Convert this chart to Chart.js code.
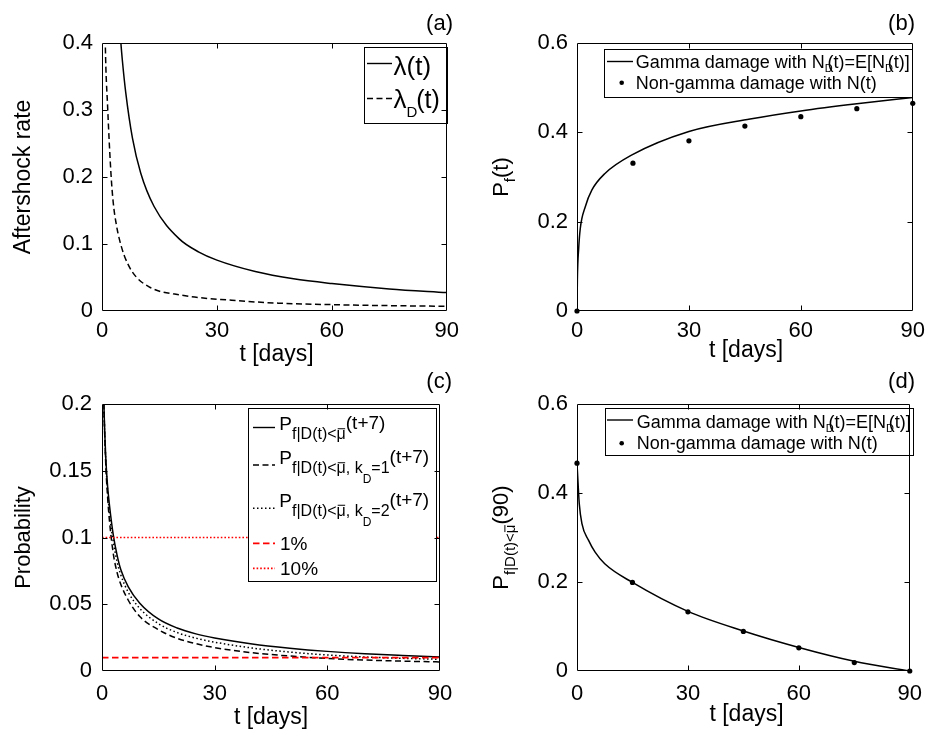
<!DOCTYPE html>
<html><head><meta charset="utf-8">
<script src="https://cdn.jsdelivr.net/npm/chart.js@4.4.1/dist/chart.umd.min.js"></script>
<style>
html,body{margin:0;padding:0;background:#fff;}
#wrap{position:relative;width:932px;height:731px;overflow:hidden;background:#fff;}
canvas{position:absolute;}
</style></head><body>
<div id="wrap">
<canvas id="ca" style="left:0px;top:0px;width:466px;height:366px" width="466" height="366"></canvas>
<canvas id="cb" style="left:466px;top:0px;width:466px;height:366px" width="466" height="366"></canvas>
<canvas id="cc" style="left:0px;top:366px;width:466px;height:365px" width="466" height="365"></canvas>
<canvas id="cd" style="left:466px;top:366px;width:466px;height:365px" width="466" height="365"></canvas>
</div>
<script>
// ---------------- DATA ----------------
const X_TICKS = [0, 30, 60, 90];
const Y_TICKS_A = [0, 0.1, 0.2, 0.3, 0.4];
const Y_TICKS_B = [0, 0.2, 0.4, 0.6];
const Y_TICKS_C = [0, 0.05, 0.1, 0.15, 0.2];
const Y_TICKS_D = [0, 0.2, 0.4, 0.6];

// (a) aftershock rates
const T_LAMBDA = [4.6, 4.93, 5.35, 6.2, 7.95, 10.1, 13.6, 20.1, 25.3, 30, 40, 50, 60, 75, 90];
const LAMBDA   = [0.43, 0.40, 0.372, 0.326, 0.258, 0.206, 0.156, 0.108, 0.088, 0.076, 0.059, 0.048, 0.041, 0.033, 0.0275];
const T_LAMBDA_D = [0.75, 0.86, 1.46, 2.33, 2.93, 3.8, 4.5, 5.8, 7.95, 12.3, 20.9, 33.9, 46, 60, 75, 90];
const LAMBDA_D   = [0.45, 0.40, 0.306, 0.206, 0.162, 0.127, 0.108, 0.083, 0.058, 0.036, 0.0235, 0.016, 0.0117, 0.0095, 0.008, 0.007];

// (b) failure probability
const T_PF = [0, 0.1, 0.45, 0.88, 2.2, 4, 7.5, 14.6, 30, 46.4, 60, 75, 90];
const PF_GAMMA = [0, 0.07, 0.14, 0.185, 0.233, 0.271, 0.308, 0.349, 0.402, 0.430, 0.448, 0.464, 0.478];
const T_DOTS = [0, 15, 30, 45, 60, 75, 90];
const PF_NONGAMMA = [0, 0.331, 0.381, 0.414, 0.435, 0.453, 0.465];

// (c) conditional probabilities
const T_C = [0.3, 0.5, 1, 1.5, 2, 3, 4, 5, 7, 10, 15, 20, 25, 30, 40, 50, 60, 70, 80, 90];
const P_C_GAMMA = [0.23, 0.2, 0.16, 0.138, 0.124, 0.102, 0.087, 0.076, 0.063, 0.051, 0.039, 0.0322, 0.0278, 0.0247, 0.0202, 0.0171, 0.0147, 0.0129, 0.0116, 0.0105];
const P_C_K1 = [0.23, 0.2, 0.155, 0.13, 0.112, 0.088, 0.074, 0.065, 0.053, 0.041, 0.031, 0.0245, 0.0205, 0.0175, 0.0137, 0.0112, 0.0094, 0.0082, 0.0074, 0.0068];
const P_C_K2 = [0.23, 0.2, 0.158, 0.135, 0.118, 0.097, 0.082, 0.072, 0.059, 0.047, 0.0355, 0.0288, 0.0246, 0.0216, 0.0172, 0.0142, 0.012, 0.0105, 0.0095, 0.0088];
const T_LIMITS = [0, 90];
const LEVEL_1 = [0.01, 0.01];
const LEVEL_10 = [0.1, 0.1];

// (d) probability at 90 days
const T_PD = [0, 0.3, 0.61, 1.33, 3.1, 4.9, 7.5, 15, 30, 45, 60, 75, 90];
const PD_GAMMA = [0.467, 0.42, 0.376, 0.331, 0.294, 0.267, 0.241, 0.199, 0.134, 0.090, 0.053, 0.022, 0];
const PD_NONGAMMA = [0.467, 0.199, 0.133, 0.089, 0.052, 0.019, 0];

// ---------------- HELPERS ----------------
const FONT = "'Liberation Sans', Arial, Helvetica, sans-serif";
const zip = (t, v) => t.map((x, i) => ({x: x, y: v[i]}));

function segW(ctx, segs) {
  let w = 0;
  for (const s of segs) { ctx.font = s.size + 'px ' + FONT; w += ctx.measureText(s.text).width * (s.adv ?? 1); }
  return w;
}
function drawSegs(ctx, x, y, segs) {
  for (const s of segs) {
    ctx.font = s.size + 'px ' + FONT;
    const yy = y + (s.dy || 0);
    ctx.fillText(s.text, x, yy);
    const full = ctx.measureText(s.text).width;
    if (s.bar) { // macron over the last character (mu-bar)
      const last = ctx.measureText(s.text.slice(-1)).width;
      const x0 = x + full - last;
      ctx.save();
      ctx.strokeStyle = ctx.fillStyle; ctx.lineWidth = Math.max(1, s.size * 0.06); ctx.setLineDash([]);
      ctx.beginPath();
      ctx.moveTo(x0 + s.size * 0.07, yy - s.size * 0.64);
      ctx.lineTo(x0 + last - s.size * 0.04, yy - s.size * 0.64);
      ctx.stroke();
      ctx.restore();
    }
    x += full * (s.adv ?? 1);
  }
}

const mfig = {
  id: 'mfig',
  afterDatasetsDraw(chart, args, o) {
    const ctx = chart.ctx, a = chart.chartArea, ox = o.ox, oy = o.oy;
    ctx.save();
    if (o.legend) {
      const L = o.legend, b = L.box;
      ctx.setLineDash([]);
      ctx.fillStyle = '#fff';
      ctx.fillRect(b[0] - ox, b[1] - oy, b[2] - b[0], b[3] - b[1]);
      ctx.strokeStyle = '#000'; ctx.lineWidth = 1;
      ctx.strokeRect(Math.round(b[0] - ox) + 0.5, Math.round(b[1] - oy) + 0.5, Math.round(b[2] - b[0]), Math.round(b[3] - b[1]));
      for (const r of L.rows) {
        if (r.line) {
          const l = r.line;
          ctx.beginPath();
          ctx.strokeStyle = l.color; ctx.lineWidth = l.width || 1.4;
          ctx.setLineDash(l.dash || []);
          ctx.moveTo(l.x1 - ox, l.y - oy); ctx.lineTo(l.x2 - ox, l.y - oy);
          ctx.stroke();
          ctx.setLineDash([]);
        }
        if (r.dot) {
          ctx.beginPath(); ctx.fillStyle = '#000';
          ctx.arc(r.dot.x - ox, r.dot.y - oy, r.dot.r, 0, Math.PI * 2); ctx.fill();
        }
        ctx.fillStyle = '#000'; ctx.textAlign = 'left'; ctx.textBaseline = 'alphabetic';
        drawSegs(ctx, r.x - ox, r.y - oy, r.segs);
      }
    }
    ctx.setLineDash([]);
    ctx.strokeStyle = '#000'; ctx.lineWidth = 1;
    const L0 = Math.round(a.left) + 0.5, R0 = Math.round(a.right) - 0.5, T0 = Math.round(a.top) + 0.5, B0 = Math.round(a.bottom) - 0.5;
    ctx.beginPath();
    ctx.moveTo(L0, T0); ctx.lineTo(R0, T0); ctx.lineTo(R0, B0); ctx.lineTo(L0, B0); ctx.closePath();
    ctx.stroke();
    const xs = chart.scales.x, ys = chart.scales.y, TL = 5;
    ctx.beginPath();
    for (const t of xs.ticks) {
      const p = Math.round(xs.getPixelForValue(t.value)) + 0.5;
      if (p <= L0 + 1 || p >= R0 - 1) continue;
      ctx.moveTo(p, B0); ctx.lineTo(p, B0 - TL);
      ctx.moveTo(p, T0); ctx.lineTo(p, T0 + TL);
    }
    for (const t of ys.ticks) {
      const p = Math.round(ys.getPixelForValue(t.value)) + 0.5;
      if (p <= T0 + 1 || p >= B0 - 1) continue;
      ctx.moveTo(L0, p); ctx.lineTo(L0 + TL, p);
      ctx.moveTo(R0, p); ctx.lineTo(R0 - TL, p);
    }
    ctx.stroke();
    ctx.fillStyle = '#000'; ctx.textBaseline = 'alphabetic'; ctx.textAlign = 'left';
    for (const t of o.texts) {
      const w = segW(ctx, t.segs);
      if (t.rotate) {
        ctx.save();
        ctx.translate(t.x - ox, t.y - oy);
        ctx.rotate(-Math.PI / 2);
        drawSegs(ctx, -w / 2, 0, t.segs);
        ctx.restore();
      } else {
        let x = t.x - ox;
        if (t.align === 'center') x -= w / 2;
        else if (t.align === 'right') x -= w;
        drawSegs(ctx, x, t.y - oy, t.segs);
      }
    }
    ctx.restore();
  }
};
Chart.register(mfig);

function xAxis(h, pad) {
  return {
    type: 'linear', min: X_TICKS[0], max: X_TICKS[X_TICKS.length - 1],
    afterBuildTicks: s => { s.ticks = X_TICKS.map(v => ({value: v})); },
    grid: {display: false, drawTicks: false}, border: {display: false},
    ticks: {font: {family: FONT, size: 22}, color: '#000', padding: pad, maxRotation: 0, autoSkip: false, callback: v => String(v)},
    afterFit: s => { s.height = h; }
  };
}
function yAxis(w, pad, ticks) {
  return {
    type: 'linear', min: ticks[0], max: ticks[ticks.length - 1],
    afterBuildTicks: s => { s.ticks = ticks.map(v => ({value: v})); },
    grid: {display: false, drawTicks: false}, border: {display: false},
    ticks: {font: {family: FONT, size: 22}, color: '#000', padding: pad, autoSkip: false, callback: v => String(v)},
    afterFit: s => { s.width = w; }
  };
}
function lineDs(data, opts) {
  return Object.assign({data: data, showLine: true, borderColor: '#000', borderWidth: 1.5, pointRadius: 0,
    pointHoverRadius: 0, fill: false, cubicInterpolationMode: 'monotone'}, opts || {});
}
function dotDs(data) {
  return {data: data, showLine: false, pointRadius: 2.6, pointBackgroundColor: '#000', pointBorderWidth: 0, pointHoverRadius: 2.6, clip: false};
}
function makeChart(id, datasets, layoutPad, xa, ya, fig) {
  return new Chart(document.getElementById(id), {
    type: 'scatter',
    data: {datasets: datasets},
    options: {
      responsive: false, animation: false, devicePixelRatio: 1,
      layout: {padding: layoutPad, autoPadding: false},
      scales: {x: xa, y: ya},
      plugins: {legend: {display: false}, tooltip: {enabled: false}, mfig: fig}
    }
  });
}

const DASH = [6, 3.5], DOT = [1.5, 2.5], RDASH = [6.5, 3.5], RDOT = [1.6, 2];
const days = (x, y) => ({x: x, y: y, align: 'center', segs: [{text: 't [days]', size: 23}]});

// (a)
makeChart('ca', [
  lineDs(zip(T_LAMBDA, LAMBDA)),
  lineDs(zip(T_LAMBDA_D, LAMBDA_D), {borderDash: DASH})
], {top: 43, right: 15, left: 0, bottom: 0}, xAxis(55, 7), yAxis(102, 9, Y_TICKS_A), {
  ox: 0, oy: 0,
  texts: [
    {x: 453, y: 30, align: 'right', segs: [{text: '(a)', size: 22}]},
    {x: 30, y: 177, rotate: true, segs: [{text: 'Aftershock rate', size: 23}]},
    days(276.5, 361)
  ],
  legend: {box: [364, 47, 447, 123], rows: [
    {line: {x1: 367, x2: 392, y: 63.5, color: '#000'}, x: 393.5, y: 74.5, segs: [{text: '\u03BB(t)', size: 26}]},
    {line: {x1: 367, x2: 392, y: 98.5, color: '#000', dash: DASH}, x: 393.5, y: 107.5,
      segs: [{text: '\u03BB', size: 26}, {text: 'D', size: 15, dy: 9, adv: 0.9}, {text: '(t)', size: 25}]}
  ]}
});

// (b)
const gammaSegs = [{text: 'Gamma damage with N', size: 18}, {text: 'D', size: 11, dy: 4, adv: 0.35},
  {text: '(t)=E[N', size: 18}, {text: 'D', size: 11, dy: 4, adv: 0.35}, {text: '(t)]', size: 18}];
const nonGammaSegs = [{text: 'Non-gamma damage with N(t)', size: 18}];
makeChart('cb', [
  dotDs(zip(T_DOTS, PF_NONGAMMA)),
  lineDs(zip(T_PF, PF_GAMMA))
], {top: 43, right: 17, left: 0, bottom: 0}, xAxis(55, 7), yAxis(111, 9, Y_TICKS_B), {
  ox: 466, oy: 0,
  texts: [
    {x: 915, y: 30, align: 'right', segs: [{text: '(b)', size: 22}]},
    {x: 508, y: 177, rotate: true, segs: [{text: 'P', size: 22}, {text: 'f', size: 15, dy: 7}, {text: '(t)', size: 22}]},
    days(746, 357)
  ],
  legend: {box: [604, 49, 912, 97], rows: [
    {line: {x1: 607, x2: 633, y: 61.5, color: '#000'}, x: 635.7, y: 68.3, segs: gammaSegs},
    {dot: {x: 621.7, y: 82.7, r: 2.3}, x: 635.7, y: 88.5, segs: nonGammaSegs}
  ]}
});

// (c)
const pSub = (k) => k ? [{text: 'P', size: 19}, {text: 'f|D(t)<\u03BC', size: 16, dy: 9, bar: true}, {text: ', k', size: 16, dy: 9},
  {text: 'D', size: 12, dy: 19}, {text: '=' + k, size: 16, dy: 9}, {text: '(t+7)', size: 19, dy: -1}]
  : [{text: 'P', size: 19}, {text: 'f|D(t)<\u03BC', size: 16, dy: 9, bar: true}, {text: '(t+7)', size: 19, dy: -1}];
makeChart('cc', [
  lineDs(zip(T_LIMITS, LEVEL_1), {borderColor: '#ff0000', borderDash: RDASH, borderWidth: 1.7, cubicInterpolationMode: 'default'}),
  lineDs(zip(T_LIMITS, LEVEL_10), {borderColor: '#ff0000', borderDash: RDOT, borderWidth: 1.7, cubicInterpolationMode: 'default'}),
  lineDs(zip(T_C, P_C_GAMMA)),
  lineDs(zip(T_C, P_C_K1), {borderDash: DASH}),
  lineDs(zip(T_C, P_C_K2), {borderDash: DOT})
], {top: 38, right: 26, left: 0, bottom: 0}, xAxis(60, 10), yAxis(102, 10, Y_TICKS_C), {
  ox: 0, oy: 366,
  texts: [
    {x: 452, y: 388, align: 'right', segs: [{text: '(c)', size: 22}]},
    {x: 29.5, y: 537.5, rotate: true, segs: [{text: 'Probability', size: 22}]},
    days(271, 724)
  ],
  legend: {box: [248, 408, 436, 581], rows: [
    {line: {x1: 253, x2: 275, y: 427.5, color: '#000'}, x: 279.3, y: 430, segs: pSub(0)},
    {line: {x1: 253, x2: 275, y: 465, color: '#000', dash: DASH}, x: 279.3, y: 464, segs: pSub(1)},
    {line: {x1: 253, x2: 275, y: 508.3, color: '#000', dash: DOT}, x: 279.3, y: 506.5, segs: pSub(2)},
    {line: {x1: 253, x2: 275, y: 543.3, color: '#ff0000', dash: RDASH, width: 1.7}, x: 280, y: 550, segs: [{text: '1%', size: 19}]},
    {line: {x1: 253, x2: 275, y: 568.3, color: '#ff0000', dash: RDOT, width: 1.7}, x: 280, y: 575, segs: [{text: '10%', size: 19}]}
  ]}
});

// (d)
makeChart('cd', [
  dotDs(zip(T_DOTS, PD_NONGAMMA)),
  lineDs(zip(T_PD, PD_GAMMA))
], {top: 38, right: 16, left: 0, bottom: 0}, xAxis(60, 10), yAxis(111, 9, Y_TICKS_D), {
  ox: 466, oy: 366,
  texts: [
    {x: 915, y: 388, align: 'right', segs: [{text: '(d)', size: 22}]},
    {x: 507.5, y: 537.5, rotate: true, segs: [{text: 'P', size: 22}, {text: 'f|D(t)<\u03BC', size: 15, dy: 7, bar: true}, {text: '(90)', size: 22}]},
    days(746.5, 721)
  ],
  legend: {box: [605, 408, 913, 455], rows: [
    {line: {x1: 607, x2: 633, y: 420, color: '#000'}, x: 636.7, y: 427.8, segs: gammaSegs},
    {dot: {x: 621.7, y: 443.3, r: 2.3}, x: 636.7, y: 449, segs: nonGammaSegs}
  ]}
});
</script>
</body></html>
